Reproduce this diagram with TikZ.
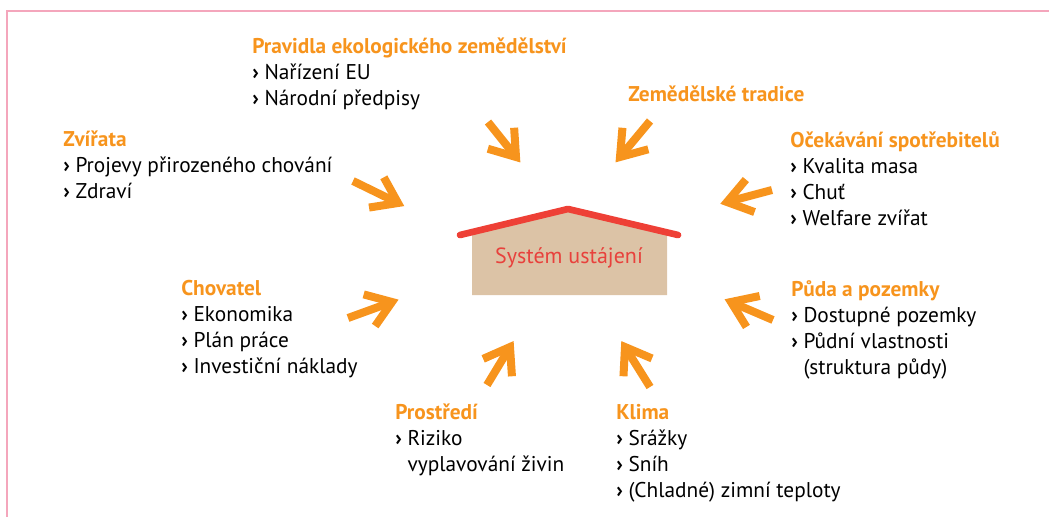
\documentclass[tikz,border=0pt]{standalone}
\usepackage{fontspec}
\setmainfont{PT Sans}
\usepackage{xcolor}
\usepackage{tikz}
\usetikzlibrary{calc}

\definecolor{ecoorange}{HTML}{F7941D}
\definecolor{roofred}{HTML}{EE4036}
\definecolor{wallbeige}{HTML}{DCC3A6}
\definecolor{framepink}{HTML}{F4A6BC}
\definecolor{textred}{HTML}{E8413C}

\newcommand{\bul}{\textbf{›}\ }
\newcommand{\cont}{\phantom{\bul}}
\newcommand{\head}[1]{\textcolor{ecoorange}{\bfseries #1}}

\tikzset{
  chev/.style={ecoorange, line width=6pt, line join=miter},
  % anchored at the baseline of the last line
  block/.style={anchor=base west, align=left, inner sep=0pt,
    font={\fontsize{16}{19.5}\selectfont}},
}

% arrow from tail #1 to tip #2
\newcommand{\chevarrow}[2]{%
  \draw[chev] (#1) -- (#2);
  \draw[chev] ($(#2)!22pt!35:(#1)$) -- (#2) -- ($(#2)!22pt!-35:(#1)$);
}

\begin{document}
\begin{tikzpicture}[x=0.75pt,y=-0.75pt]
\useasboundingbox (0,0) rectangle (1049,517);

% Frame
\draw[framepink, line width=1.5pt] (7,517) -- (7,11) -- (1049,11);

% House
\fill[wallbeige] (472,295) -- (472,232) -- (568,210) -- (667,232) -- (667,295) -- cycle;
\draw[roofred, line width=5pt, line cap=round, line join=round] (460,235) -- (568,209) -- (678,235);
\node[textred, inner sep=0pt, font={\fontsize{16.5}{19.5}\selectfont}] (system) at (569,258) {Systém ustájení};

% Influences
\node[block] (pravidla) at (252,105) {\head{Pravidla ekologického zemědělství}\\
  \bul Nařízení EU\\ \bul Národní předpisy};
\node[block] (tradice) at (628,101) {\head{Zemědělské tradice}};
\node[block] (zvirata) at (63,198) {\head{Zvířata}\\
  \bul Projevy přirozeného chování\\ \bul Zdraví};
\node[block] (spotrebitel) at (790,225) {\head{Očekávání spotřebitelů}\\
  \bul Kvalita masa\\ \bul Chuť\\ \bul Welfare zvířat};
\node[block] (chovatel) at (181,373) {\head{Chovatel}\\
  \bul Ekonomika\\ \bul Plán práce\\ \bul Investiční náklady};
\node[block] (puda) at (791,374) {\head{Půda a pozemky}\\
  \bul Dostupné pozemky\\ \bul Půdní vlastnosti\\ \cont(struktura půdy)};
\node[block] (prostredi) at (395,471) {\head{Prostředí}\\
  \bul Riziko\\ \cont vyplavování živin};
\node[block] (klima) at (616,497) {\head{Klima}\\
  \bul Srážky\\ \bul Sníh\\ \bul (Chladné) zimní teploty};

% Arrows towards the house
\coordinate (pravidla-s) at (488,122);  \coordinate (pravidla-e) at (516,157);
\coordinate (tradice-s) at (650,121);   \coordinate (tradice-e) at (620,157);
\coordinate (zvirata-s) at (353,181);   \coordinate (zvirata-e) at (398,203);
\coordinate (spotrebitel-s) at (772,190); \coordinate (spotrebitel-e) at (727,202);
\coordinate (chovatel-s) at (348,318);  \coordinate (chovatel-e) at (392,302);
\coordinate (puda-s) at (773,320);      \coordinate (puda-e) at (731,302);
\coordinate (prostredi-s) at (487,385); \coordinate (prostredi-e) at (510,347);
\coordinate (klima-s) at (650,387);     \coordinate (klima-e) at (625,347);

\foreach \n in {pravidla,tradice,zvirata,spotrebitel,chovatel,puda,prostredi,klima}
  {\chevarrow{\n-s}{\n-e}}
\end{tikzpicture}
\end{document}
